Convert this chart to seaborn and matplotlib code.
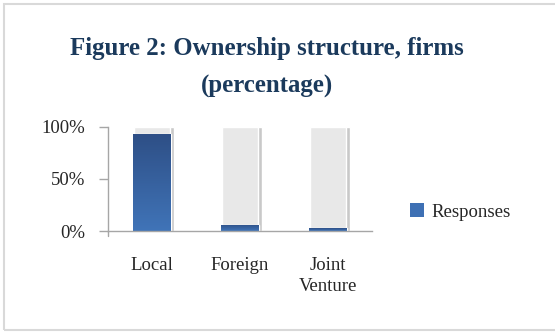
import numpy as np
import pandas as pd
import matplotlib
matplotlib.use("Agg")
import matplotlib.pyplot as plt
import seaborn as sns
from matplotlib.patches import Rectangle
from matplotlib.colors import LinearSegmentedColormap

# Ownership structure of surveyed firms (share of responses)
categories = ["Local", "Foreign", "Joint\nVenture"]
responses = [0.93, 0.06, 0.025]
full_scale = [1.0, 1.0, 1.0]
tick_values = [0.0, 0.5, 1.0]
tick_labels = ["0%", "50%", "100%"]
title = "Figure 2: Ownership structure, firms\n(percentage)"
series_name = "Responses"

sns.set_theme(style="white")
plt.rcParams["font.family"] = ["Liberation Serif", "DejaVu Serif"]

fig = plt.figure(figsize=(5.55, 3.32), dpi=100)
ax = fig.add_axes([0.1946, 0.3042, 0.4757, 0.3133])

df = pd.DataFrame({"cat": categories, "val": responses, "full": full_scale})

bar_w = 0.42
# shadow strip behind the track bars
sns.barplot(data=df, x="cat", y="full", color="#c9c9c9", width=bar_w,
            saturation=1, ax=ax)
n_shadow = len(ax.patches)
for p in ax.patches[:n_shadow]:
    p.set_x(p.get_x() + 0.035)
# light grey track bars
sns.barplot(data=df, x="cat", y="full", color="#e8e8e8", width=bar_w,
            saturation=1, ax=ax)
n_track = len(ax.patches)
# response bars
sns.barplot(data=df, x="cat", y="val", color="#3d6db0", width=bar_w + 0.01,
            saturation=1, ax=ax)
value_bars = ax.patches[n_track:]

# vertical gradient fill on the response bars
cmap = LinearSegmentedColormap.from_list("blue_grad", ["#4074b8", "#2e4f86"])
grad = np.linspace(0, 1, 256).reshape(-1, 1)
for p in value_bars:
    x0, y0 = p.get_x(), p.get_y()
    w, h = p.get_width(), p.get_height()
    im = ax.imshow(grad, extent=[x0, x0 + w, y0, y0 + h], origin="lower",
                   cmap=cmap, vmin=0, vmax=1, aspect="auto", zorder=p.get_zorder() + 0.1)
    im.set_clip_path(p)

ax.set_xlim(-0.5, 2.5)
ax.set_ylim(0, 1.0)
ax.set_yticks(tick_values)
ax.set_yticklabels(tick_labels)
ax.set_xlabel("")
ax.set_ylabel("")

for side in ["top", "right"]:
    ax.spines[side].set_visible(False)
for side in ["left", "bottom"]:
    ax.spines[side].set_color("#a6a6a6")
    ax.spines[side].set_linewidth(1.0)

ax.tick_params(axis="y", which="major", left=True, length=6.5, width=1.0,
               color="#a6a6a6", labelsize=13.5, labelcolor="#262626", pad=10)
ax.tick_params(axis="x", which="major", bottom=False, labelsize=13.5,
               labelcolor="#262626", pad=13)
# tick below the origin
ax.plot([-0.5, -0.5], [0, -0.045], color="#a6a6a6", lw=1.0, clip_on=False)
for lbl in ax.get_xticklabels():
    lbl.set_linespacing(1.3)
    lbl.set_verticalalignment("top")

fig.text(0.481, 0.796, title, ha="center", va="center", fontsize=17.9,
         fontweight="bold", color="#1b3a5c", linespacing=1.8)

handle = Rectangle((0, 0), 1, 1, facecolor="#3e70b4", edgecolor="none")
fig.legend([handle], [series_name], loc="center left",
           bbox_to_anchor=(0.709, 0.362), frameon=False, fontsize=13.5,
           handlelength=0.75, handleheight=0.75, handletextpad=0.35,
           labelcolor="#262626")

# outer chart frame
fig.patches.append(Rectangle((4 / 555, 2 / 332), 1.1, 326 / 332,
                             transform=fig.transFigure, fill=False,
                             edgecolor="#d9d9d9", lw=1.5))

fig.savefig("out.png", dpi=100)
